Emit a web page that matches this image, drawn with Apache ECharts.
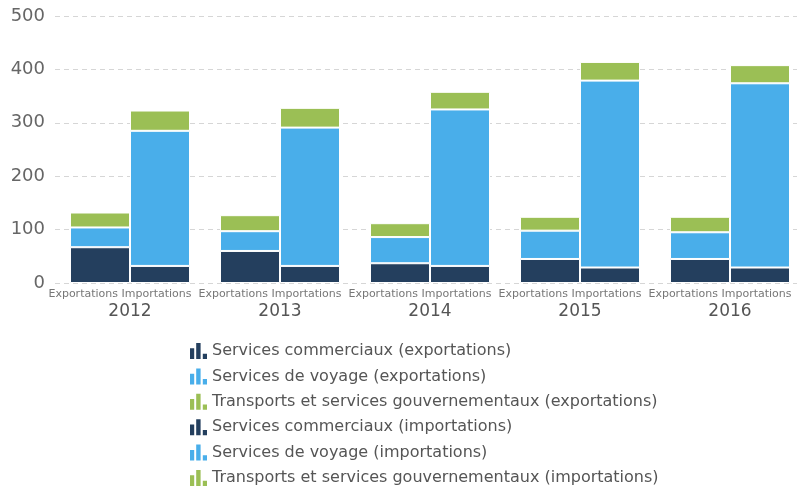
<!DOCTYPE html>
<html><head><meta charset="utf-8">
<script src="https://cdn.jsdelivr.net/npm/echarts@6/dist/echarts.min.js"></script>
<style>html,body{margin:0;padding:0;background:#fff}#c{width:797px;height:488px}</style>
</head><body><div id="c"></div>
<script>
const years = ['2012','2013','2014','2015','2016'];
const subLabels = ['Exportations','Importations'];
const yTicks = [0,100,200,300,400,500];
const commExp = [67,60,37,45,45];
const voyExp  = [37,37,49,53,50];
const transExp= [28,30,26,26,29];
const commImp = [32,32,32,29,29];
const voyImp  = [253,259,293,350,345];
const transImp= [38,37,33,35,34];
const names = ['Services commerciaux (exportations)','Services de voyage (exportations)','Transports et services gouvernementaux (exportations)','Services commerciaux (importations)','Services de voyage (importations)','Transports et services gouvernementaux (importations)'];
const colors = ['#243f5e','#49aeea','#9bbf55','#243f5e','#49aeea','#9bbf55'];
const dataSets = [commExp,voyExp,transExp,commImp,voyImp,transImp];
const icon = 'path://M0 5.3L4.2 5.3L4.2 16L0 16Z M6.2 0L10.6 0L10.6 16L6.2 16Z M12.8 10.7L17 10.7L17 16L12.8 16Z';
const series = dataSets.map((d,i)=>({
  name:names[i], type:'bar', stack: i<3?'exp':'imp', data:d,
  itemStyle:{color:colors[i],borderColor:'#fff',borderWidth:1},
  barWidth:60, barGap:'0%', barCategoryGap:'20%'
}));
const chart = echarts.init(document.getElementById('c'));
chart.setOption({
  animation:false,
  color:colors,
  grid:{left:55,right:-8,top:16,bottom:205,outerBoundsMode:'none',containLabel:false},
  legend:{orient:'vertical',left:185,top:338,height:160,itemGap:9.4,itemWidth:17,itemHeight:16,
    itemStyle:{borderWidth:0},
    textStyle:{color:'#555',fontSize:16,fontFamily:'DejaVu Sans'},
    data:names.map((n,i)=>({name:n,icon:icon,itemStyle:{color:colors[i],borderWidth:0}}))},
  xAxis:{type:'category',data:years,axisLine:{show:false},axisTick:{show:false},
    axisLabel:{interval:0,margin:4,
      formatter:v=>'{s|'+subLabels.join(' ')+'}\n{y|'+v+'}',
      rich:{s:{fontSize:11,color:'#777',fontFamily:'DejaVu Sans',lineHeight:14,padding:[0,20,0,0]},
            y:{fontSize:17,color:'#555',fontFamily:'DejaVu Sans',lineHeight:22}}}},
  yAxis:{type:'value',min:yTicks[0],max:yTicks[yTicks.length-1],interval:100,
    axisLabel:{color:'#666',fontSize:18,fontFamily:'DejaVu Sans',margin:10},
    splitLine:{lineStyle:{color:'#d6d6d6',type:[5,4]}},axisLine:{show:false},axisTick:{show:false}},
  series:series
});
</script></body></html>
